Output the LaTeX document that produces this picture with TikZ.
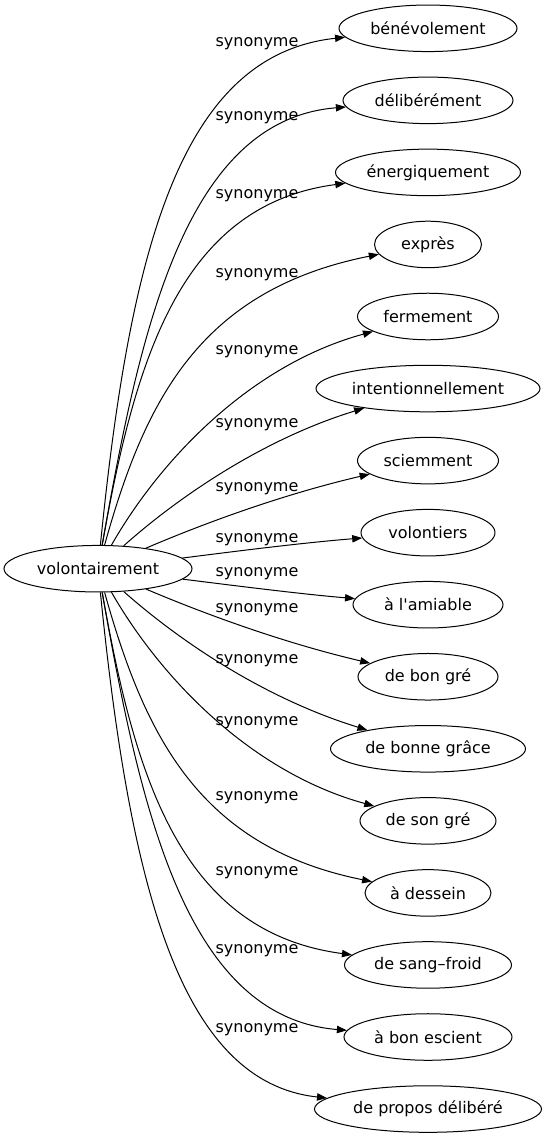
\documentclass[tikz,border=0pt]{standalone}
\usepackage{fontspec}
\newfontfamily\dvfont{DejaVu Sans}
\usetikzlibrary{arrows.meta,shapes.geometric}
\begin{document}
\begin{tikzpicture}[x=0.75pt,y=-0.75pt,
  nd/.style={draw, ellipse, inner sep=0pt, minimum height=34.9pt, line width=0.75pt, font=\dvfont\fontsize{12}{14}\selectfont},
  lb/.style={inner sep=0pt, font=\dvfont\fontsize{12}{14}\selectfont},
  ed/.style={line width=0.75pt, -{Triangle[length=7.5pt,width=5.5pt]}}]
\useasboundingbox (0,0) rectangle (546,1139);
\node[nd, minimum width=141pt] (c) at (98,568.7) {volontairement};
\node[nd, minimum width=133.5pt] (n1) at (428,28.3) {bénévolement};
\node[nd, minimum width=127.5pt] (n2) at (428,100.35) {délibérément};
\node[nd, minimum width=138.75pt] (n3) at (428,172.4) {énergiquement};
\node[nd, minimum width=80.25pt] (n4) at (428,244.45) {exprès};
\node[nd, minimum width=105.75pt] (n5) at (428,316.5) {fermement};
\node[nd, minimum width=168pt] (n6) at (428,388.55) {intentionnellement};
\node[nd, minimum width=105.75pt] (n7) at (428,460.6) {sciemment};
\node[nd, minimum width=100.5pt] (n8) at (428,532.65) {volontiers};
\node[nd, minimum width=112.5pt] (n9) at (428,604.7) {à l'amiable};
\node[nd, minimum width=105pt] (n10) at (428,676.75) {de bon gré};
\node[nd, minimum width=146.25pt] (n11) at (428,748.8) {de bonne grâce};
\node[nd, minimum width=102pt] (n12) at (428,820.85) {de son gré};
\node[nd, minimum width=94.5pt] (n13) at (428,892.9) {à dessein};
\node[nd, minimum width=125.25pt] (n14) at (428,964.95) {de sang–froid};
\node[nd, minimum width=126pt] (n15) at (428,1037) {à bon escient};
\node[nd, minimum width=170.25pt] (n16) at (428,1109.05) {de propos délibéré};

\node[lb] (l1) at (257,43.5) {synonyme};
\node[lb] (l2) at (257,118) {synonyme};
\node[lb] (l3) at (257,196) {synonyme};
\node[lb] (l4) at (257,275) {synonyme};
\node[lb] (l5) at (257,352) {synonyme};
\node[lb] (l6) at (257,425) {synonyme};
\node[lb] (l7) at (257,488.5) {synonyme};
\node[lb] (l8) at (257,540) {synonyme};
\node[lb] (l9) at (257,574) {synonyme};
\node[lb] (l10) at (257,610) {synonyme};
\node[lb] (l11) at (257,661) {synonyme};
\node[lb] (l12) at (257,723) {synonyme};
\node[lb] (l13) at (257,798) {synonyme};
\node[lb] (l14) at (257,873) {synonyme};
\node[lb] (l15) at (257,951) {synonyme};
\node[lb] (l16) at (257,1030) {synonyme};

\draw[ed] (c) .. controls (130,250) and (180,55) .. (n1);
\draw[ed] (c) .. controls (140,330) and (185,120) .. (n2);
\draw[ed] (c) .. controls (135,360) and (180,205) .. (n3);
\draw[ed] (c) .. controls (145,400) and (200,290) .. (n4);
\draw[ed] (c) .. controls (160,460) and (250,365) .. (n5);
\draw[ed] (c) .. controls (175,500) and (260,440) .. (n6);
\draw[ed] (c) .. controls (200,525) and (280,495) .. (n7);
\draw[ed] (c) .. controls (230,552) and (300,543) .. (n8);
\draw[ed] (c) .. controls (230,585) and (300,594) .. (n9);
\draw[ed] (c) .. controls (200,612) and (280,642) .. (n10);
\draw[ed] (c) .. controls (175,637) and (260,697) .. (n11);
\draw[ed] (c) .. controls (160,677) and (250,772) .. (n12);
\draw[ed] (c) .. controls (145,737) and (200,847) .. (n13);
\draw[ed] (c) .. controls (135,777) and (180,932) .. (n14);
\draw[ed] (c) .. controls (140,807) and (185,1017) .. (n15);
\draw[ed] (c) .. controls (130,887) and (180,1082) .. (n16);
\end{tikzpicture}
\end{document}
